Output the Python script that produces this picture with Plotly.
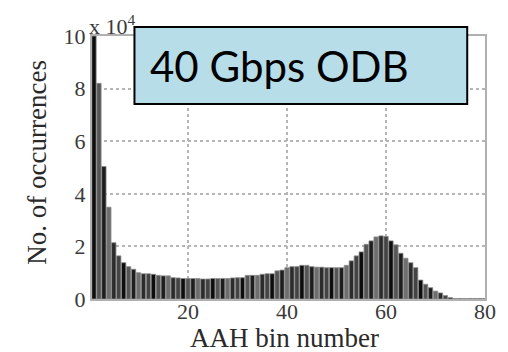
import plotly.graph_objects as go

# Histogram of AAH bin occurrences (values in units of 1e4)
bins = list(range(1, 81))
counts = [
    10.0, 8.2, 5.04, 3.49, 2.14, 1.64, 1.38, 1.23, 1.13, 1.0,
    0.96, 0.96, 0.94, 0.9, 0.88, 0.88, 0.81, 0.8, 0.78, 0.78,
    0.78, 0.78, 0.76, 0.76, 0.78, 0.78, 0.78, 0.78, 0.8, 0.81,
    0.81, 0.9, 0.9, 0.9, 0.94, 0.96, 0.96, 1.07, 1.1, 1.19,
    1.23, 1.23, 1.28, 1.28, 1.23, 1.21, 1.21, 1.19, 1.19, 1.19,
    1.19, 1.28, 1.45, 1.64, 1.79, 2.08, 2.21, 2.36, 2.4, 2.38,
    2.21, 2.06, 1.74, 1.55, 1.38, 1.19, 0.72, 0.56, 0.43, 0.30,
    0.23, 0.13, 0.05, 0.02, 0.02, 0.02, 0.02, 0.02, 0.02, 0.02,
]
x_ticks = [20, 40, 60, 80]
y_ticks = [0, 2, 4, 6, 8, 10]
title_text = "40 Gbps ODB"
x_title = "AAH bin number"
y_title = "No. of occurrences"

shade_cycle = ["#0d0d0d", "#555555", "#1e1e1e", "#6e6e6e", "#2b2b2b", "#444444"]
bar_colors = [shade_cycle[i % len(shade_cycle)] for i in range(len(bins))]

W, H = 508, 352
ml, mr, mt, mb = 92, 18, 36, 53
pw, ph = W - ml - mr, H - mt - mb


def px_x(p):
    return (p - ml) / pw


def px_y(p):
    return (H - mb - p) / ph


serif = "Liberation Serif, DejaVu Serif, serif"
tick_col = "#3a3a3a"

fig = go.Figure(
    go.Bar(
        x=bins,
        y=counts,
        marker=dict(color=bar_colors, line=dict(color="#8c8c8c", width=0.8)),
    )
)

fig.update_layout(
    width=W,
    height=H,
    margin=dict(l=ml, r=mr, t=mt, b=mb),
    paper_bgcolor="white",
    plot_bgcolor="white",
    bargap=0.12,
    showlegend=False,
    font=dict(family=serif, color="#333333"),
)

axis_style = dict(
    ticks="",
    tickfont=dict(family=serif, size=22, color=tick_col),
    showgrid=True,
    gridcolor="#b5b5b5",
    griddash="dot",
    gridwidth=1.5,
    showline=True,
    linecolor="#b0b0b0",
    linewidth=2,
    mirror=True,
    zeroline=False,
)
fig.update_xaxes(range=[0.6, 80], tickvals=x_ticks, ticklabelstandoff=-8, **axis_style)
fig.update_yaxes(range=[0, 10], tickvals=y_ticks, ticklabelstandoff=0, **axis_style)

# Axis titles
fig.add_annotation(
    x=px_x(287), y=px_y(355), xref="paper", yref="paper",
    xanchor="center", yanchor="bottom",
    text=x_title, showarrow=False,
    font=dict(family=serif, size=27, color="#2a2a2a"),
)
fig.add_annotation(
    x=px_x(36), y=px_y(162), xref="paper", yref="paper",
    xanchor="center", yanchor="middle", textangle=-90,
    text=y_title, showarrow=False,
    font=dict(family=serif, size=27, color="#2a2a2a"),
)

# Exponent label above the y axis
fig.add_annotation(
    x=px_x(87), y=px_y(41), xref="paper", yref="paper",
    xanchor="left", yanchor="bottom",
    text="x 10<sup>4</sup>", showarrow=False,
    font=dict(family=serif, size=22, color=tick_col),
)

# Title box
fig.add_shape(
    type="rect", xref="paper", yref="paper",
    x0=px_x(135), x1=px_x(472), y0=px_y(104), y1=px_y(27),
    fillcolor="#b7dde8", line=dict(color="black", width=2), layer="above",
)
fig.add_annotation(
    x=px_x(282), y=px_y(66), xref="paper", yref="paper",
    xanchor="center", yanchor="middle",
    text=title_text, showarrow=False,
    font=dict(family="Lato, Open Sans, sans-serif", size=42, color="black"),
)

fig.write_html("out.html")
